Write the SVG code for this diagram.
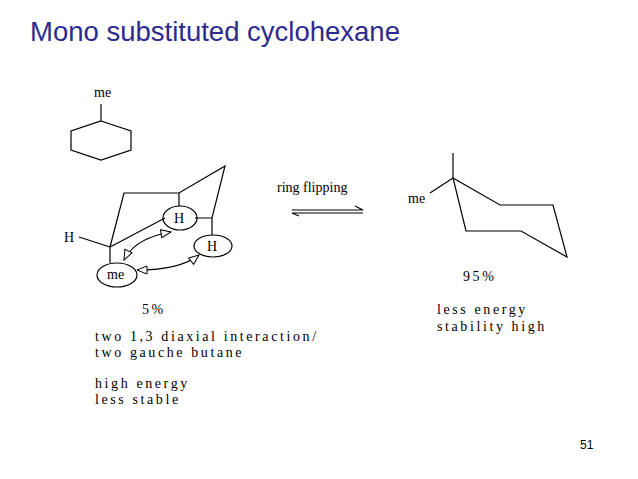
<svg xmlns="http://www.w3.org/2000/svg" width="638" height="479" viewBox="0 0 638 479">
<style>
.l{fill:none;stroke:#000;stroke-width:1.2}
.t{font-family:"Liberation Serif",serif;font-size:14px;fill:#000}
.s{font-family:"Liberation Serif",serif;font-size:14px;fill:#000;letter-spacing:2.6px}
</style>
<defs>
<marker id="oa" markerWidth="12" markerHeight="10" refX="11" refY="5" orient="auto-start-reverse" markerUnits="userSpaceOnUse"><path d="M1,1 L11,5 L1,9 Z" fill="#fff" stroke="#000"/></marker>
</defs>
<rect width="638" height="479" fill="#fff"/>
<text x="30" y="41" font-family="Liberation Sans,Arial,sans-serif" font-size="27.5" fill="#2b2b8f">Mono substituted cyclohexane</text>
<g id="hexagon">
<text class="t" x="94" y="97" font-size="12">me</text>
<path class="l" d="M101,104 V121 M101,121 L131,131 V150 L101,160 L71,150 V131 Z"/>
</g>
<g id="axial">
<path class="l" d="M110,247 L124,193 H179 L225,166 L212,218 H195 M165,218 L110,247 M179,193 V206 M110,247 V263 M79,237 L110,247 M212,218 V235"/>
<text class="t" x="64" y="242">H</text>
<g id="h1"><ellipse class="l" cx="180" cy="218" rx="17" ry="12"/><text class="t" x="174" y="223">H</text></g>
<g id="h2"><ellipse class="l" cx="213" cy="246" rx="19" ry="11"/><text class="t" x="207" y="251">H</text></g>
<g id="me1"><ellipse class="l" cx="117" cy="275" rx="20" ry="12"/><text class="t" x="107" y="279">me</text></g>
</g>
<g id="connectors">
<path class="l" d="M124,260 Q135,238 171,232" marker-start="url(#oa)" marker-end="url(#oa)"/>
<path class="l" d="M137,270 Q180,270 199,255" marker-start="url(#oa)" marker-end="url(#oa)"/>
<path class="l" d="M292,210 H363 L355,206 M363,213 H292 L299,216"/>
</g>
<text class="t" x="277" y="192" font-size="13">ring flipping</text>
<g id="chair">
<path class="l" d="M453,153 V178 M453,178 L500,205 H553 L567,257 L521,231 H466 Z M453,178 L430,193"/>
<text class="t" x="408" y="203">me</text>
</g>
<text class="s" x="463" y="281">95%</text>
<text class="s" x="142" y="314">5%</text>
<text class="s" x="437" y="314">less energy</text>
<text class="s" x="437" y="331">stability high</text>
<text class="s" x="95" y="341">two 1,3 diaxial interaction/</text>
<text class="s" x="95" y="357">two gauche butane</text>
<text class="s" x="95" y="388">high energy</text>
<text class="s" x="95" y="404">less stable</text>
<text x="580" y="449" font-family="Liberation Sans,Arial,sans-serif" font-size="12" fill="#000">51</text>
</svg>
